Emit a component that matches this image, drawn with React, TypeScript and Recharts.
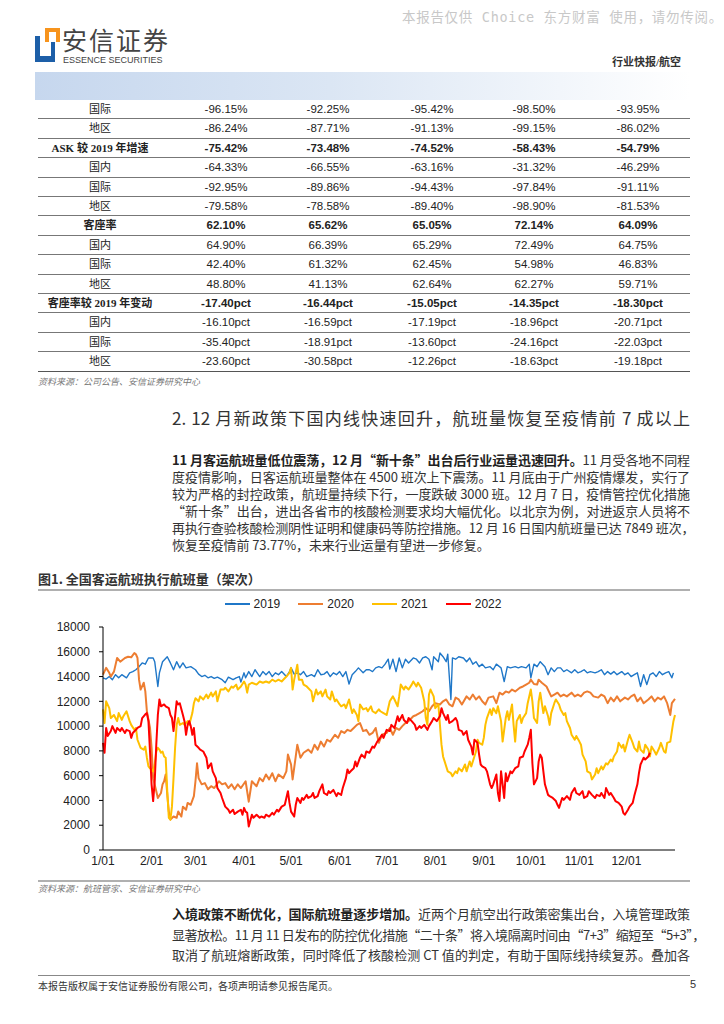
import React from 'react';
import { LineChart, Line, XAxis, YAxis } from 'recharts';

// ---- chart data (day 0 = 1/01) ----
const days2019 = [0, 2, 4, 6, 8, 10, 12, 15, 17, 19, 21, 23, 25, 27, 29, 32, 33, 35, 36, 38, 41, 43, 45, 47, 49, 51, 53, 56, 59, 61, 63, 65, 67, 69, 71, 73, 76, 78, 80, 83, 85, 87, 88, 90, 91, 93, 95, 97, 100, 102, 104, 106, 108, 110, 112, 114, 117, 119, 120, 122, 124, 126, 128, 130, 133, 135, 137, 139, 141, 143, 145, 147, 149, 151, 153, 155, 157, 159, 161, 163, 166, 168, 170, 172, 174, 176, 178, 180, 182, 183, 185, 187, 189, 191, 193, 195, 198, 200, 202, 204, 206, 208, 210, 211, 214, 215, 217, 219, 220, 222, 223, 225, 227, 230, 232, 234, 236, 238, 240, 242, 244, 247, 249, 251, 254, 256, 258, 260, 263, 265, 267, 270, 272, 273, 275, 277, 279, 282, 284, 286, 288, 290, 292, 294, 296, 299, 301, 303, 305, 307, 309, 311, 314, 316, 318, 320, 322, 324, 326, 328, 331, 333, 335, 337, 339, 341, 343, 345, 347, 349, 351, 353, 355, 357, 359, 361, 363, 364];
const flights2019 = [13900, 13800, 14000, 13750, 14150, 13900, 14150, 13900, 14300, 14400, 14550, 14800, 15100, 15000, 15500, 15500, 15200, 13200, 14300, 15200, 15600, 15100, 14550, 15200, 14700, 15100, 14700, 14800, 14550, 14200, 14000, 14100, 13900, 14000, 13850, 13950, 13750, 13500, 13950, 13750, 13900, 14000, 13550, 14300, 13900, 14400, 14000, 14550, 14000, 14400, 14150, 14400, 14000, 14300, 14150, 14400, 14000, 14400, 14700, 14200, 14300, 14150, 14400, 14000, 14150, 14000, 14550, 14150, 14200, 14400, 14000, 14300, 14150, 14400, 14000, 14400, 13400, 14150, 14400, 14700, 14300, 14550, 14550, 14400, 14700, 14800, 14700, 15000, 15400, 14600, 15400, 14400, 15500, 14700, 15400, 15100, 15500, 15400, 15100, 15500, 15600, 15400, 14550, 15600, 15200, 15900, 15600, 15200, 15800, 12150, 15500, 15400, 15600, 15500, 15200, 15500, 15000, 15200, 14800, 15000, 14700, 14800, 14550, 15000, 14700, 13600, 14800, 14700, 14800, 14700, 14800, 14700, 15000, 13900, 15000, 14800, 15200, 14800, 14150, 14700, 14400, 14700, 14700, 14400, 14550, 14300, 14550, 14300, 14400, 14550, 14300, 14400, 14300, 14400, 14550, 14150, 14400, 14200, 14400, 14150, 14400, 14150, 14300, 14000, 14150, 14300, 13200, 14150, 13350, 14150, 14300, 14000, 14400, 14150, 14300, 14400, 13900, 14300];

const days2020 = [0, 2, 4, 5, 7, 9, 11, 14, 16, 18, 20, 21, 22, 23, 24, 26, 27, 28, 30, 31, 32, 34, 35, 37, 38, 39, 40, 41, 42, 43, 45, 47, 48, 50, 51, 53, 54, 56, 58, 59, 60, 61, 63, 65, 67, 69, 71, 74, 76, 78, 80, 82, 84, 86, 88, 91, 93, 95, 98, 100, 102, 104, 106, 108, 110, 112, 115, 117, 118, 120, 121, 123, 124, 126, 128, 131, 133, 135, 137, 139, 141, 143, 145, 148, 150, 152, 154, 156, 158, 160, 162, 164, 166, 168, 170, 172, 174, 176, 178, 181, 183, 185, 187, 189, 191, 193, 195, 198, 200, 202, 204, 206, 208, 210, 212, 215, 217, 219, 221, 223, 225, 227, 229, 232, 234, 236, 238, 240, 242, 244, 246, 249, 251, 253, 255, 257, 259, 261, 263, 266, 268, 270, 272, 273, 275, 277, 278, 280, 283, 286, 288, 290, 292, 294, 296, 299, 301, 303, 305, 307, 309, 311, 313, 316, 318, 320, 322, 324, 326, 328, 330, 333, 335, 337, 339, 341, 343, 345, 348, 350, 352, 354, 356, 358, 360, 362, 363, 365];
const flights2020 = [14150, 14700, 14300, 14000, 14400, 15500, 15200, 15500, 15600, 15550, 15900, 15800, 15500, 13750, 12950, 13500, 12800, 11200, 9850, 8250, 5800, 4750, 4200, 4600, 5300, 5550, 6100, 4500, 3100, 2450, 2700, 2600, 3100, 2700, 3500, 3250, 3800, 3650, 4350, 5550, 7000, 5800, 5300, 5400, 4900, 5150, 5000, 5550, 5300, 5400, 5000, 5300, 4900, 5300, 5000, 5550, 3900, 5550, 5150, 5800, 5550, 6100, 5700, 6200, 5550, 6100, 5800, 6350, 7700, 6900, 5700, 7550, 8500, 7450, 7850, 8100, 7850, 8500, 8100, 8750, 8350, 8900, 8750, 9300, 9050, 9600, 9450, 9700, 9600, 9850, 10100, 10250, 9600, 9700, 9300, 9450, 9850, 8650, 9300, 9450, 9850, 9300, 9850, 9700, 10000, 10250, 10400, 10800, 10900, 11050, 11200, 11450, 11200, 11600, 11850, 11750, 12000, 12150, 11750, 11600, 12300, 12150, 11750, 12400, 12150, 12550, 12150, 12400, 12000, 11750, 12300, 12400, 11850, 12700, 12550, 12800, 12700, 12950, 12800, 13100, 13200, 13350, 13500, 13750, 13400, 13350, 13750, 13500, 13200, 12400, 12550, 12700, 12400, 12550, 12400, 12700, 12400, 12550, 12400, 12700, 12800, 12700, 12400, 12300, 12550, 12400, 11850, 12300, 12000, 12400, 12000, 12300, 12150, 12400, 12550, 12000, 12300, 11850, 12150, 12400, 12000, 12300, 12150, 12400, 11850, 10900, 11850, 12200];

const days2021 = [0, 1, 2, 4, 5, 7, 9, 10, 12, 13, 15, 17, 18, 20, 21, 22, 24, 26, 27, 28, 29, 30, 32, 33, 34, 35, 36, 37, 38, 39, 40, 41, 42, 43, 44, 45, 46, 47, 48, 49, 51, 52, 54, 55, 57, 58, 59, 61, 62, 64, 66, 67, 69, 70, 72, 73, 75, 77, 78, 80, 82, 83, 85, 86, 88, 90, 91, 92, 93, 95, 98, 100, 102, 104, 106, 108, 110, 112, 114, 117, 119, 120, 121, 122, 124, 125, 127, 128, 130, 133, 134, 136, 137, 139, 140, 142, 143, 145, 146, 148, 149, 151, 152, 154, 155, 157, 159, 160, 162, 163, 164, 166, 168, 169, 171, 172, 174, 176, 177, 179, 181, 183, 185, 186, 188, 189, 190, 192, 193, 195, 197, 198, 200, 201, 203, 205, 206, 207, 208, 209, 211, 212, 214, 215, 216, 217, 218, 220, 222, 223, 225, 226, 227, 229, 231, 232, 234, 235, 237, 238, 239, 240, 242, 243, 244, 245, 247, 248, 249, 251, 252, 254, 255, 257, 258, 259, 261, 262, 263, 264, 266, 267, 268, 270, 271, 273, 274, 275, 277, 278, 279, 281, 282, 284, 285, 286, 288, 289, 291, 292, 294, 295, 296, 298, 299, 301, 302, 304, 305, 306, 308, 309, 311, 312, 314, 315, 316, 318, 319, 321, 322, 324, 325, 326, 328, 329, 331, 332, 333, 335, 336, 338, 339, 341, 342, 343, 345, 346, 348, 349, 350, 352, 353, 355, 356, 358, 359, 360, 362, 363, 364, 365];
const flights2021 = [11350, 10250, 12000, 11450, 10650, 10900, 10400, 11050, 10500, 10800, 11200, 10400, 10100, 9700, 9850, 8900, 8250, 8100, 8350, 7450, 6750, 6600, 6350, 6900, 7950, 8250, 8100, 7850, 7950, 7550, 7450, 4750, 2600, 2450, 3500, 5800, 8250, 10100, 10650, 10100, 10250, 10100, 10400, 10100, 11050, 11850, 12250, 12000, 12400, 12150, 12550, 12250, 12700, 12400, 12800, 12000, 12950, 12950, 13100, 12800, 13200, 13100, 13350, 12950, 13200, 13600, 13350, 12700, 13350, 13500, 13350, 13600, 13500, 13600, 13500, 13750, 13600, 13750, 13600, 14000, 14300, 14700, 12950, 13750, 14950, 13750, 13750, 13350, 13200, 12800, 12000, 12950, 12550, 12800, 12400, 12950, 12400, 12150, 12800, 12000, 12150, 11750, 11600, 11750, 11450, 12150, 11050, 11350, 10900, 10400, 11750, 11350, 11450, 11200, 11600, 11200, 11050, 11350, 11200, 11050, 10900, 12000, 12400, 12150, 11600, 12400, 13350, 12950, 13200, 12950, 13350, 13600, 13200, 13500, 13100, 12000, 10650, 10100, 12550, 12950, 12400, 11450, 11750, 10100, 8500, 7550, 7150, 6350, 6200, 5950, 6350, 6200, 6600, 6350, 6900, 6350, 7150, 6750, 7550, 7950, 8900, 8650, 8500, 9050, 10100, 10650, 11350, 10900, 11450, 11050, 11600, 10400, 8750, 10650, 11200, 10500, 11750, 10100, 8750, 10400, 10900, 10250, 10650, 11050, 11850, 12950, 12000, 10650, 10250, 12000, 12700, 11050, 11600, 10800, 10100, 11050, 11850, 12150, 11750, 11350, 10900, 11050, 10400, 9850, 9300, 8900, 9200, 8750, 8500, 7700, 7150, 6350, 6200, 5700, 6100, 6600, 6200, 6750, 6500, 7000, 6900, 7300, 7150, 7550, 7950, 8650, 8250, 8500, 7950, 8900, 9300, 8650, 8250, 7950, 8750, 8100, 7850, 8500, 8100, 7550, 8350, 7950, 7700, 8250, 8650, 7950, 7850, 8650, 8750, 9600, 10400, 10900];

const days2022 = [0, 1, 2, 3, 5, 6, 8, 9, 11, 12, 14, 15, 17, 18, 19, 21, 22, 24, 25, 27, 28, 29, 30, 31, 32, 33, 34, 35, 36, 37, 39, 40, 42, 43, 44, 45, 47, 48, 49, 51, 52, 53, 54, 55, 56, 57, 58, 59, 61, 62, 64, 66, 67, 69, 70, 72, 73, 75, 76, 78, 80, 81, 83, 84, 86, 88, 89, 90, 91, 92, 93, 95, 96, 98, 100, 101, 103, 104, 106, 108, 109, 111, 112, 114, 116, 117, 118, 119, 120, 122, 123, 124, 126, 127, 128, 130, 131, 133, 134, 135, 137, 138, 140, 141, 143, 144, 145, 147, 149, 150, 152, 153, 155, 156, 157, 158, 160, 161, 162, 164, 165, 167, 168, 170, 172, 173, 175, 176, 178, 179, 181, 183, 184, 186, 188, 189, 191, 192, 194, 195, 197, 199, 200, 202, 203, 205, 207, 208, 210, 211, 213, 215, 216, 217, 219, 220, 221, 223, 225, 226, 227, 229, 230, 232, 233, 235, 236, 237, 239, 240, 241, 242, 244, 245, 247, 248, 249, 251, 252, 253, 254, 255, 256, 257, 258, 260, 261, 263, 265, 266, 268, 269, 271, 272, 273, 274, 275, 277, 278, 279, 280, 281, 282, 284, 285, 287, 289, 290, 291, 293, 294, 296, 298, 299, 301, 302, 304, 306, 307, 309, 310, 312, 314, 315, 317, 318, 320, 321, 323, 324, 326, 327, 329, 331, 332, 333, 335, 336, 338, 339, 341, 342, 343, 345, 346, 348, 349];
const flights2022 = [8650, 7850, 9850, 9200, 9600, 10000, 9450, 9850, 9600, 9850, 9450, 9700, 9600, 9050, 9450, 9700, 9850, 10000, 10650, 10950, 11050, 10400, 7950, 5300, 3950, 5550, 8500, 10900, 12150, 11600, 11750, 11600, 11450, 10900, 10650, 9600, 12000, 11750, 11850, 10900, 10400, 9300, 10100, 10400, 10000, 9300, 9850, 8500, 8250, 8100, 7950, 7450, 6600, 7000, 6350, 5800, 5000, 4600, 4200, 3500, 3250, 3000, 3250, 2900, 3100, 3250, 2850, 3400, 3100, 3000, 1900, 2850, 2600, 2850, 2600, 2700, 2600, 2850, 2700, 3000, 2850, 3250, 3100, 3500, 3650, 4200, 4750, 3800, 3100, 2700, 3650, 4200, 3800, 4200, 4050, 4450, 4200, 4350, 4600, 4200, 4350, 4750, 5300, 4600, 4450, 4750, 4600, 4850, 4350, 4600, 4450, 5000, 5800, 6500, 6200, 6350, 6600, 7150, 6750, 7450, 7700, 7450, 7950, 7850, 8350, 8250, 8750, 8900, 9300, 9050, 9700, 9600, 10100, 9850, 10800, 10400, 10900, 10500, 10250, 10650, 10400, 10100, 9700, 10000, 9850, 10100, 9700, 10000, 10400, 10650, 10400, 10800, 11450, 11050, 10500, 10900, 10250, 10400, 10650, 10400, 9700, 9600, 9300, 9600, 8900, 8350, 7700, 8900, 8650, 7700, 6900, 6750, 6600, 6350, 5300, 5000, 5300, 6100, 4600, 3950, 6350, 5300, 4200, 6200, 5550, 6350, 6200, 6600, 6750, 7450, 7550, 7950, 8500, 9050, 9700, 7000, 5300, 5800, 7150, 7700, 7450, 6350, 5300, 4450, 4350, 4200, 3950, 3650, 3400, 4200, 4050, 4350, 4050, 4600, 5000, 4600, 4450, 4750, 4200, 4350, 4750, 4450, 4200, 4450, 4350, 4600, 4200, 5000, 4450, 4600, 4200, 3950, 3800, 3500, 3000, 2850, 3250, 3500, 3800, 4350, 5300, 6200, 6900, 7450, 7300, 7550, 7850];

const seriesNames = ['2019', '2020', '2021', '2022'];
const seriesColors = ['#1f77c8', '#ed7d31', '#ffc000', '#ff0000'];
const monthTicks = [0, 31, 59, 90, 120, 151, 181, 212, 243, 273, 304, 334];
const monthLabels = ['1/01', '2/01', '3/01', '4/01', '5/01', '6/01', '7/01', '8/01', '9/01', '10/01', '11/01', '12/01'];
const yTicks = [0, 2000, 4000, 6000, 8000, 10000, 12000, 14000, 16000, 18000];

// ---- table data ----
const tableLabels = ['国际', '地区', 'ASK 较 2019 年增速', '国内', '国际', '地区', '客座率', '国内', '国际', '地区', '客座率较 2019 年变动', '国内', '国际', '地区'];
const tableBold = [false, false, true, false, false, false, true, false, false, false, true, false, false, false];
const tableCol1 = ['-96.15%', '-86.24%', '-75.42%', '-64.33%', '-92.95%', '-79.58%', '62.10%', '64.90%', '42.40%', '48.80%', '-17.40pct', '-16.10pct', '-35.40pct', '-23.60pct'];
const tableCol2 = ['-92.25%', '-87.71%', '-73.48%', '-66.55%', '-89.86%', '-78.58%', '65.62%', '66.39%', '61.32%', '41.13%', '-16.44pct', '-16.59pct', '-18.91pct', '-30.58pct'];
const tableCol3 = ['-95.42%', '-91.13%', '-74.52%', '-63.16%', '-94.43%', '-89.40%', '65.05%', '65.29%', '62.45%', '62.64%', '-15.05pct', '-17.19pct', '-13.60pct', '-12.26pct'];
const tableCol4 = ['-98.50%', '-99.15%', '-58.43%', '-31.32%', '-97.84%', '-98.90%', '72.14%', '72.49%', '54.98%', '62.27%', '-14.35pct', '-18.96pct', '-24.16pct', '-18.63pct'];
const tableCol5 = ['-93.95%', '-86.02%', '-54.79%', '-46.29%', '-91.11%', '-81.53%', '64.09%', '64.75%', '46.83%', '59.71%', '-18.30pct', '-20.71pct', '-22.03pct', '-19.18pct'];

const para1 = [
  '度疫情影响，日客运航班量整体在 4500 班次上下震荡。11 月底由于广州疫情爆发，实行了',
  '较为严格的封控政策，航班量持续下行，一度跌破 3000 班。12 月 7 日，疫情管控优化措施',
  '“新十条”出台，进出各省市的核酸检测要求均大幅优化。以北京为例，对进返京人员将不',
  '再执行查验核酸检测阴性证明和健康码等防控措施。12 月 16 日国内航班量已达 7849 班次，',
];
const para2 = [
  '显著放松。11 月 11 日发布的防控优化措施“二十条”将入境隔离时间由“7+3”缩短至“5+3”，',
  '取消了航班熔断政策，同时降低了核酸检测 CT 值的判定，有助于国际线持续复苏。叠加各',
];

const SERIF = '"Liberation Serif", "Noto Sans CJK SC", serif';
const SANS = '"Liberation Sans", Arial, "Noto Sans CJK SC", sans-serif';
const CJK = '"Noto Sans CJK SC", sans-serif';

const toPoints = (days: number[], vals: number[]) => days.map((d, i) => ({ day: d, v: vals[i] }));

const seriesData = [
  toPoints(days2019, flights2019),
  toPoints(days2020, flights2020),
  toPoints(days2021, flights2021),
  toPoints(days2022, flights2022),
];

const abs = (x: number, y: number, extra: React.CSSProperties = {}): React.CSSProperties => ({
  position: 'absolute', left: x, top: y, ...extra,
});

const JustLine: React.FC<{ y: number; text: React.ReactNode; last?: boolean; tight?: number }> = ({ y, text, last, tight }) => (
  <div style={abs(172, y - 9, {
    width: 518, height: 18, lineHeight: '18px', fontSize: 13, fontFamily: CJK, color: '#333',
    letterSpacing: tight ?? -0.1,
    textAlign: 'justify', textAlignLast: last ? 'left' : 'justify', whiteSpace: 'nowrap', overflow: 'visible',
  })}>{text}</div>
);

export default function App() {
  const rowTop = 100;
  const rowH = 19.4;
  const cols = [tableCol1, tableCol2, tableCol3, tableCol4, tableCol5];
  const colX = [226, 328, 432, 534, 638];

  return (
    <div style={{ position: 'absolute', left: 0, top: 0, width: 724, height: 1024, background: '#fff', overflow: 'hidden' }}>
      {/* watermark */}
      <div style={abs(402, 6, { fontSize: 13.5, letterSpacing: 0.7, fontFamily: '"DejaVu Sans Mono", "Noto Sans CJK SC", monospace', color: '#c8c8c8', whiteSpace: 'nowrap' })}>
        本报告仅供 Choice 东方财富 使用，请勿传阅。
      </div>

      {/* logo */}
      <div style={abs(35, 36, { width: 20, height: 26, background: '#1d5fa8' })} />
      <div style={abs(40, 36, { width: 11, height: 20, background: '#fff' })} />
      <div style={abs(45, 28, { width: 15, height: 14, background: '#f7941d' })} />
      <div style={abs(49, 32, { width: 7, height: 10, background: '#fff' })} />
      <div style={abs(62, 25, { fontSize: 25, fontFamily: CJK, color: '#444', letterSpacing: 2, whiteSpace: 'nowrap', lineHeight: '28px' })}>安信证券</div>
      <div style={abs(63, 55, { fontSize: 9, lineHeight: '10px', fontFamily: SANS, color: '#444', whiteSpace: 'nowrap' })}>ESSENCE SECURITIES</div>
      <div style={abs(612, 53, { fontSize: 11, fontFamily: SERIF, fontWeight: 'bold', color: '#333', whiteSpace: 'nowrap' })}>行业快报/航空</div>

      {/* gradient band */}
      <div style={abs(35, 72, { width: 655, height: 28, background: 'linear-gradient(90deg, #c6d7ee 0%, #dbe6f4 45%, #ffffff 100%)' })} />

      {/* table */}
      {tableLabels.map((lab, i) => {
        const top = rowTop + i * rowH;
        return (
          <div key={i}>
            <div style={abs(38, top + rowH - 1, { width: 652, height: 1, background: i === tableLabels.length - 1 ? '#555' : '#777' })} />
            <div style={abs(0, top, {
              width: 200, textAlign: 'center', lineHeight: `${rowH}px`, fontSize: 11, fontFamily: SERIF,
              fontWeight: tableBold[i] ? 'bold' : 'normal', color: '#222', whiteSpace: 'nowrap',
            })}>{lab}</div>
            {cols.map((c, j) => (
              <div key={j} style={abs(colX[j] - 50, top, {
                width: 100, textAlign: 'center', lineHeight: `${rowH}px`, fontSize: 11.5, fontFamily: SANS,
                fontWeight: tableBold[i] ? 'bold' : 'normal', color: '#222',
              })}>{c[i]}</div>
            ))}
          </div>
        );
      })}
      <div style={abs(38, 375, { fontSize: 9, fontFamily: CJK, fontStyle: 'italic', color: '#777', whiteSpace: 'nowrap' })}>资料来源：公司公告、安信证券研究中心</div>

      {/* heading */}
      <div style={abs(172, 407, {
        width: 518, fontSize: 17, fontFamily: CJK, color: '#333', lineHeight: '22px',
        textAlign: 'justify', textAlignLast: 'justify', whiteSpace: 'nowrap',
      })}>2. 12 月新政策下国内线快速回升，航班量恢复至疫情前 7 成以上</div>

      {/* paragraph 1 */}
      <JustLine y={460} text={<><b style={{ color: '#222' }}>11 月客运航班量低位震荡，12 月“新十条”出台后行业运量迅速回升。</b>11 月受各地不同程</>} />
      {para1.map((t, i) => <JustLine key={i} y={477 + i * 17} text={t} />)}
      <JustLine y={545} text="恢复至疫情前 73.77%，未来行业运量有望进一步修复。" last />

      {/* figure title */}
      <div style={abs(38, 569, { fontSize: 13, fontFamily: CJK, color: '#333', whiteSpace: 'nowrap', fontWeight: 'bold' })}>图1. 全国客运航班执行航班量（架次）</div>
      <div style={abs(38, 589, { width: 652, height: 2, background: '#b0b0b0' })} />

      {/* legend */}
      <div style={abs(38, 596, { width: 650, display: 'flex', justifyContent: 'center', gap: 18, fontFamily: SANS, fontSize: 12, color: '#222' })}>
        {seriesNames.map((n, i) => (
          <div key={n} style={{ display: 'flex', alignItems: 'center', gap: 4, lineHeight: '16px' }}>
            <div style={{ width: 25, height: 2, background: seriesColors[i] }} />
            <span>{n}</span>
          </div>
        ))}
      </div>

      {/* chart */}
      <div style={abs(38, 610)}>
        <LineChart width={650} height={270} margin={{ top: 17, right: 13, bottom: 5, left: 5 }}>
          <XAxis
            dataKey="day" type="number" domain={[0, 365]} ticks={monthTicks}
            tickFormatter={(d: number) => monthLabels[monthTicks.indexOf(d)]}
            tickLine={false} tickSize={0} tickMargin={6} height={25}
            axisLine={{ stroke: '#000' }} tick={{ fontSize: 12, fill: '#222', fontFamily: SANS }}
            allowDuplicatedCategory={false}
          />
          <YAxis
            type="number" domain={[0, 18000]} ticks={yTicks} width={60}
            tickSize={4} tickMargin={9} axisLine={{ stroke: '#000' }} tickLine={{ stroke: '#000' }}
            tick={{ fontSize: 12, fill: '#222', fontFamily: SANS }}
          />
          {seriesData.map((d, i) => (
            <Line
              key={seriesNames[i]} data={d} dataKey="v" name={seriesNames[i]} type="linear"
              stroke={seriesColors[i]} strokeWidth={i === 0 ? 1.4 : 2} dot={false}
              isAnimationActive={false} strokeLinejoin="round"
            />
          ))}
        </LineChart>
      </div>

      {/* source */}
      <div style={abs(38, 880, { width: 652, height: 2, background: '#b0b0b0' })} />
      <div style={abs(38, 882, { fontSize: 9, fontFamily: CJK, fontStyle: 'italic', color: '#777', whiteSpace: 'nowrap' })}>资料来源：航班管家、安信证券研究中心</div>

      {/* paragraph 2 */}
      <JustLine y={914} text={<><b style={{ color: '#222' }}>入境政策不断优化，国际航班量逐步增加。</b>近两个月航空出行政策密集出台，入境管理政策</>} />
      <JustLine y={935} text={para2[0]} tight={-0.45} />
      <JustLine y={955} text={para2[1]} />

      {/* footer */}
      <div style={abs(38, 975, { width: 652, height: 1, background: '#888' })} />
      <div style={abs(38, 978, { fontSize: 10, fontFamily: CJK, color: '#333', whiteSpace: 'nowrap' })}>本报告版权属于安信证券股份有限公司，各项声明请参见报告尾页。</div>
      <div style={abs(690, 978, { fontSize: 11, fontFamily: SANS, color: '#333' })}>5</div>
    </div>
  );
}
